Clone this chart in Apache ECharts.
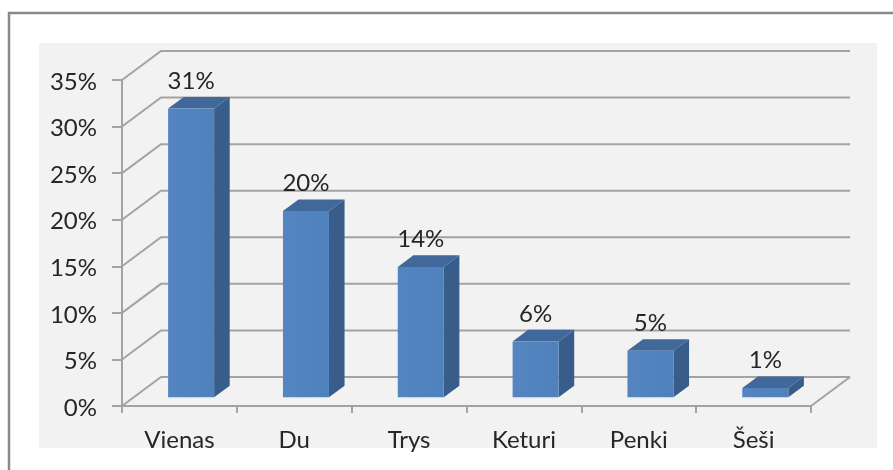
<!DOCTYPE html>
<html>
<head>
<meta charset="utf-8">
<style>
  html,body{margin:0;padding:0;background:#fff}
  #chart{width:893px;height:470px}
</style>
<script src="https://cdn.jsdelivr.net/npm/echarts@6/dist/echarts.min.js"></script>
</head>
<body>
<div id="chart"></div>
<script>
const categories = ['Vienas','Du','Trys','Keturi','Penki','Šeši']
const values = [31,20,14,6,5,1]
const yTicks = [0,5,10,15,20,25,30,35]

// depth of the fake 3d floor, px
const depthX = 39
const depthY = 29
// bar sits between these fractions of the floor depth
const barNear = 0.3
const barFar = 0.7
const barWidth = 46
const lineColor = '#a3a3a3'
const textColor = '#262626'
const font = 'Lato'

let chart = echarts.init(document.getElementById('chart'))

function renderGrid(params, api){
  let p = api.coord([0, api.value(1)])
  let band = api.size([1,0])[0]
  let left = p[0] - band/2
  let right = left + band*categories.length
  let style = {stroke: lineColor, lineWidth: 2, fill: null}
  let children = [
    {type:'polyline', shape:{points:[[left,p[1]],[left+depthX,p[1]-depthY],[right+depthX,p[1]-depthY]]}, style}
  ]
  if(api.value(1)===0){
    children.push({type:'line', shape:{x1:right,y1:p[1],x2:right+depthX,y2:p[1]-depthY}, style})
  }
  return {type:'group', children}
}

function renderBar(params, api){
  let top = api.coord([api.value(0), api.value(1)])
  let base = api.coord([api.value(0), 0])
  let cx = top[0] + depthX*barNear
  let x0 = cx - barWidth/2
  let x1 = cx + barWidth/2
  let yt = top[1] - depthY*barNear
  let yb = base[1] - depthY*barNear
  let dx = depthX*(barFar-barNear)
  let dy = depthY*(barFar-barNear)
  return {type:'group', children:[
    {type:'polygon', shape:{points:[[x1,yt],[x1+dx,yt-dy],[x1+dx,yb-dy],[x1,yb]]}, style:{fill:'#385d8a'}},
    {type:'polygon', shape:{points:[[x0,yt],[x0+dx,yt-dy],[x1+dx,yt-dy],[x1,yt]]}, style:{fill:'#41689a'}},
    {type:'rect', shape:{x:x0,y:yt,width:barWidth,height:yb-yt}, style:{
      fill:new echarts.graphic.LinearGradient(0,0,1,0,[{offset:0,color:'#5585c1'},{offset:1,color:'#4f81bd'}])
    }},
    {type:'text', style:{
      x:cx, y:yt-dy-4, text:api.value(1)+'%', align:'center', verticalAlign:'bottom',
      fill:textColor, font:'24px '+font
    }}
  ]}
}

let option = {
  animation:false,
  backgroundColor:'#fff',
  graphic:{elements:[
    {type:'rect', z:-20, shape:{x:39,y:43,width:838,height:405}, style:{fill:'#f2f2f2'}},
    {type:'polyline', z:-20, shape:{points:[[9,470],[9,13],[893,13]]}, style:{stroke:'#8a8a8a',lineWidth:2.5,fill:null}}
  ]},
  grid:{left:122, right:82, top:80, bottom:64},
  xAxis:{
    type:'category',
    data:categories,
    axisLine:{lineStyle:{color:lineColor,width:2}},
    axisTick:{show:true,length:7,lineStyle:{color:lineColor,width:2}},
    axisLabel:{color:textColor,fontFamily:font,fontSize:24,margin:22,interval:0},
    splitLine:{show:false}
  },
  yAxis:{
    type:'value',
    min:0, max:35, interval:5,
    axisLine:{show:true,lineStyle:{color:lineColor,width:2}},
    axisTick:{show:true,length:10,lineStyle:{color:lineColor,width:2}},
    // small lineHeight + top align pushes the text a bit below the tick
    axisLabel:{color:textColor,fontFamily:font,fontSize:24,margin:25,verticalAlign:'top',lineHeight:4,formatter:'{value}%'},
    splitLine:{show:false}
  },
  series:[
    {type:'custom', z:1, clip:false, silent:true, renderItem:renderGrid, data:yTicks.map(v=>[0,v])},
    {type:'custom', z:2, clip:false, silent:true, renderItem:renderBar, data:values.map((v,i)=>[i,v])}
  ]
}
chart.setOption(option)
</script>
</body>
</html>
